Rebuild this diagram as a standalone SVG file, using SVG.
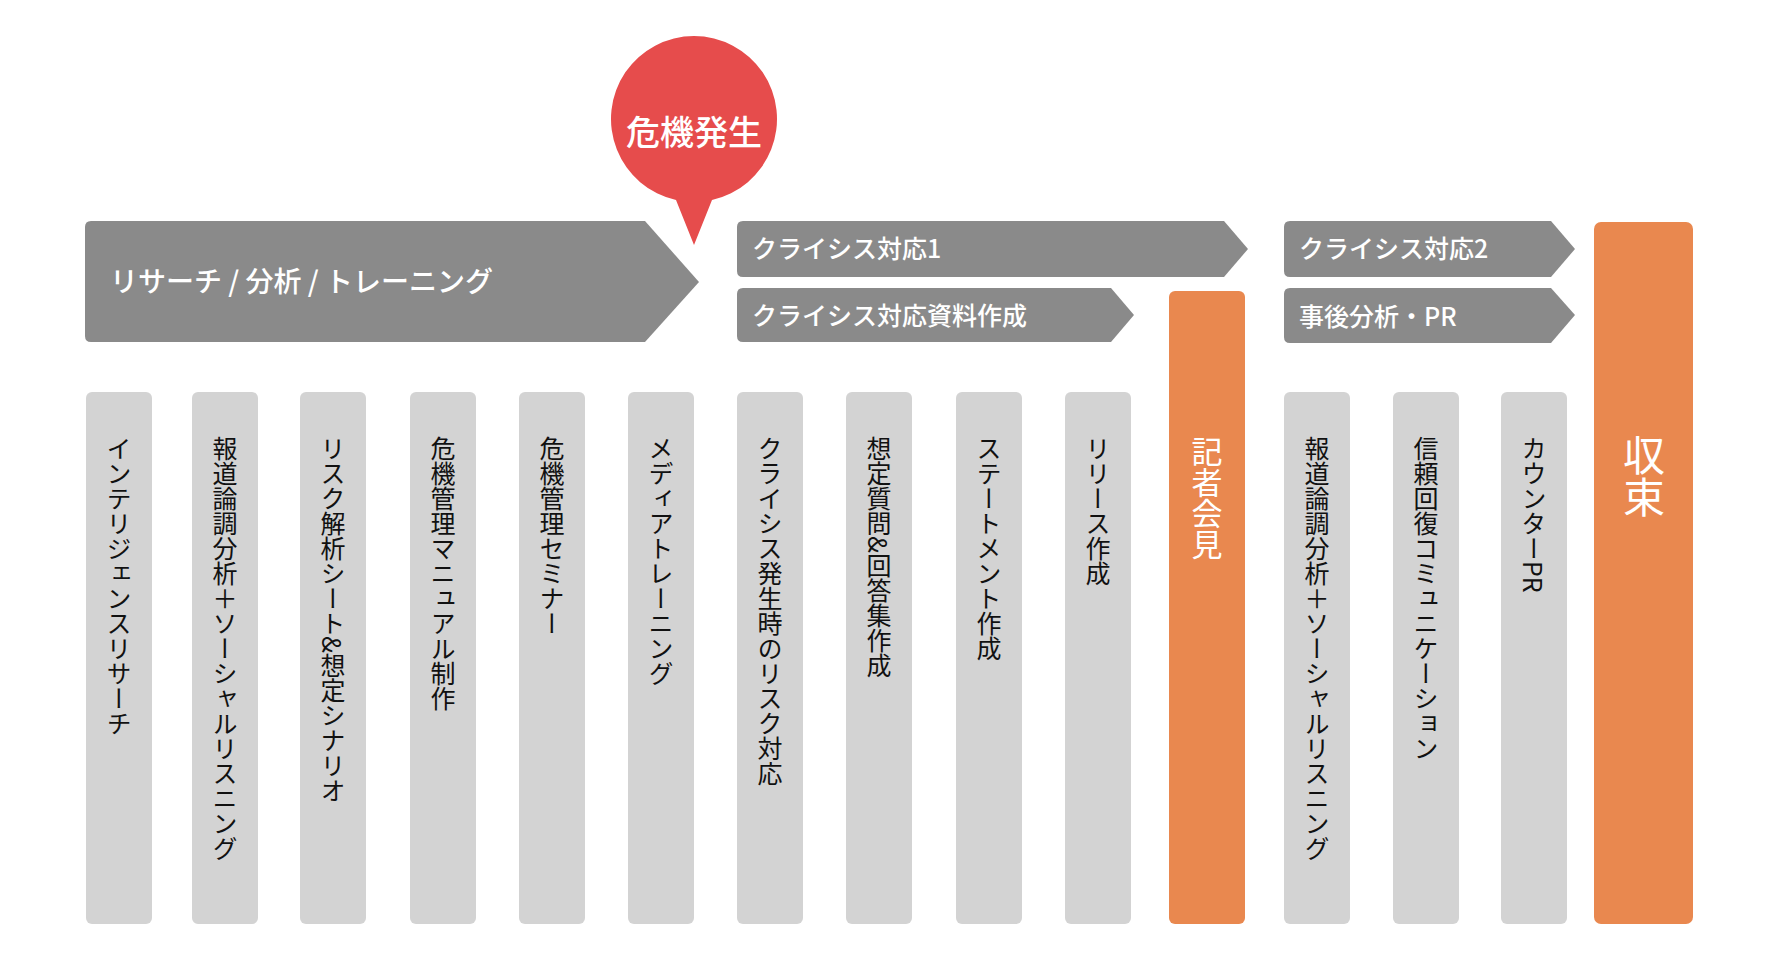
<svg xmlns="http://www.w3.org/2000/svg" width="1768" height="958" viewBox="0 0 1768 958">
<style>
.ar{fill:#8a8a8a}
.bar{fill:#d3d3d3}
.or{fill:#e9884f}
.ht{font-family:"Noto Sans CJK JP","Noto Sans",sans-serif;fill:#fff;font-weight:500}
.vt{font-family:"Noto Sans CJK JP","Noto Sans",sans-serif;fill:#111;font-size:25px;writing-mode:vertical-rl;text-anchor:start}
.vw{font-family:"Noto Sans CJK JP","Noto Sans",sans-serif;fill:#fff;writing-mode:vertical-rl;text-anchor:start}
</style>
<rect width="1768" height="958" fill="#fff"/>
<g id="crisis">
<path d="M694 245 L676 200 A83 83 0 1 1 712 200 Z" fill="#e64c4c"/>
<text class="ht" x="694" y="145" font-size="34" text-anchor="middle">危機発生</text>
</g>
<g id="phase-research"><path class="ar" d="M91 221 H645 L699 282 L645 342 H91 Q85 342 85 336 V227 Q85 221 91 221Z"/><text class="ht" x="110" y="292" font-size="28">リサーチ / 分析 / トレーニング</text></g>
<g id="phase-c1"><path class="ar" d="M743 221 H1224 L1248 249 L1224 277 H743 Q737 277 737 271 V227 Q737 221 743 221Z"/><text class="ht" x="752" y="258" font-size="25">クライシス対応1</text></g>
<g id="phase-doc"><path class="ar" d="M743 288 H1111 L1134 315 L1111 342 H743 Q737 342 737 336 V294 Q737 288 743 288Z"/><text class="ht" x="752" y="325" font-size="25">クライシス対応資料作成</text></g>
<g id="phase-c2"><path class="ar" d="M1290 221 H1551 L1575 249 L1551 277 H1290 Q1284 277 1284 271 V227 Q1284 221 1290 221Z"/><text class="ht" x="1299" y="258" font-size="25">クライシス対応2</text></g>
<g id="phase-post"><path class="ar" d="M1290 288 H1551 L1575 315 L1551 343 H1290 Q1284 343 1284 337 V294 Q1284 288 1290 288Z"/><text class="ht" x="1299" y="326" font-size="25">事後分析・PR</text></g>
<g id="b1"><rect class="bar" x="86" y="392" width="66" height="532" rx="6"/><text class="vt" x="119" y="436">インテリジェンスリサーチ</text></g>
<g id="b2"><rect class="bar" x="192" y="392" width="66" height="532" rx="6"/><text class="vt" x="225" y="436">報道論調分析＋ソーシャルリスニング</text></g>
<g id="b3"><rect class="bar" x="300" y="392" width="66" height="532" rx="6"/><text class="vt" x="333" y="436">リスク解析シート&amp;想定シナリオ</text></g>
<g id="b4"><rect class="bar" x="410" y="392" width="66" height="532" rx="6"/><text class="vt" x="443" y="436">危機管理マニュアル制作</text></g>
<g id="b5"><rect class="bar" x="519" y="392" width="66" height="532" rx="6"/><text class="vt" x="552" y="436">危機管理セミナー</text></g>
<g id="b6"><rect class="bar" x="628" y="392" width="66" height="532" rx="6"/><text class="vt" x="661" y="436">メディアトレーニング</text></g>
<g id="b7"><rect class="bar" x="737" y="392" width="66" height="532" rx="6"/><text class="vt" x="770" y="436">クライシス発生時のリスク対応</text></g>
<g id="b8"><rect class="bar" x="846" y="392" width="66" height="532" rx="6"/><text class="vt" x="879" y="436">想定質問&amp;回答集作成</text></g>
<g id="b9"><rect class="bar" x="956" y="392" width="66" height="532" rx="6"/><text class="vt" x="989" y="436">ステートメント作成</text></g>
<g id="b10"><rect class="bar" x="1065" y="392" width="66" height="532" rx="6"/><text class="vt" x="1098" y="436">リリース作成</text></g>
<g id="press"><rect class="or" x="1169" y="291" width="76" height="633" rx="6"/><text class="vw" x="1207" y="436" font-size="31">記者会見</text></g>
<g id="b11"><rect class="bar" x="1284" y="392" width="66" height="532" rx="6"/><text class="vt" x="1317" y="436">報道論調分析＋ソーシャルリスニング</text></g>
<g id="b12"><rect class="bar" x="1393" y="392" width="66" height="532" rx="6"/><text class="vt" x="1426" y="436">信頼回復コミュニケーション</text></g>
<g id="b13"><rect class="bar" x="1501" y="392" width="66" height="532" rx="6"/><text class="vt" x="1534" y="436">カウンターPR</text></g>
<g id="end"><rect class="or" x="1594" y="222" width="99" height="702" rx="7"/><text class="vw" x="1644" y="434" font-size="42">収束</text></g>
<g id="connectors"/>
</svg>
